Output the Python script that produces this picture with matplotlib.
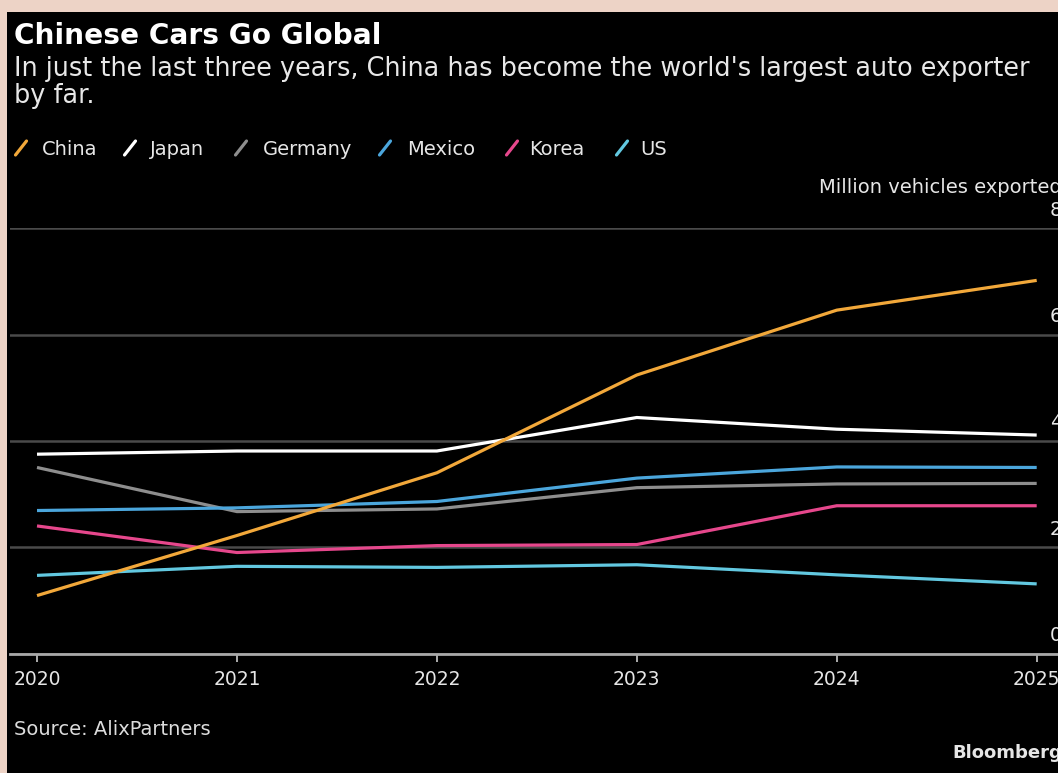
import matplotlib
matplotlib.use("Agg")
import matplotlib.pyplot as plt
from matplotlib.patches import Rectangle
from matplotlib.lines import Line2D
from matplotlib.transforms import blended_transform_factory

# Vehicle exports, millions per year
years = [2020, 2021, 2022, 2023, 2024, 2025]
countries = ["China", "Japan", "Germany", "Mexico", "Korea", "US"]
china = [1.09, 2.22, 3.40, 5.24, 6.46, 7.02]
japan = [3.75, 3.81, 3.81, 4.44, 4.22, 4.11]
germany = [3.50, 2.67, 2.72, 3.12, 3.19, 3.20]
mexico = [2.69, 2.74, 2.86, 3.30, 3.51, 3.50]
korea = [2.40, 1.90, 2.03, 2.05, 2.78, 2.78]
us = [1.47, 1.64, 1.62, 1.67, 1.48, 1.31]
y_ticks = [0, 2, 4, 6, 8]
x_labels = [str(y) for y in years]

series = dict(zip(countries, [china, japan, germany, mexico, korea, us]))
colors = dict(zip(countries, ["#f2a83a", "#ffffff", "#8e8e8e", "#4ba6dc", "#e6478c", "#62c8e0"]))
draw_order = ["US", "Korea", "Germany", "Mexico", "Japan", "China"]

W, H = 1058, 773
FONT = "DejaVu Sans"
fig = plt.figure(figsize=(W / 100, H / 100), dpi=100, facecolor="#edd3c6")


def fx(px):
    return px / W


def fy(py):
    return 1 - py / H


# black panel inside the frame
fig.patches.append(Rectangle((fx(7), 0), 1, fy(12), transform=fig.transFigure,
                             facecolor="black", edgecolor="none", zorder=-5))

# plot area: x from 10px to past the right edge, y from 0-line to 8-line
left_px, right_px = 10, 1080
top_px, bottom_px = 228.3, 653.5
ax = fig.add_axes([fx(left_px), fy(bottom_px), fx(right_px - left_px),
                   (bottom_px - top_px) / H])
ax.set_facecolor("none")
ax.set_zorder(1)

px_per_year = (1036.7 - 37.0) / 5
ax.set_xlim(2020 - (37.0 - left_px) / px_per_year,
            2025 + (right_px - 1036.7) / px_per_year)
ax.set_ylim(0, 8)

for name in draw_order:
    ax.plot(years, series[name], color=colors[name], lw=2.3,
            solid_joinstyle="round", solid_capstyle="butt", zorder=3)

# gridlines and baseline
ax.set_yticks(y_ticks)
ax.yaxis.grid(True, color="#4a4a4a", lw=1.8)
ax.set_axisbelow(True)
ax.tick_params(axis="y", length=0, labelleft=False, labelright=False)
for s in ["left", "right", "top"]:
    ax.spines[s].set_visible(False)
ax.spines["bottom"].set_color("#a8a8a8")
ax.spines["bottom"].set_linewidth(2.0)
ax.spines["bottom"].set_zorder(2)

ax.set_xticks(years)
ax.set_xticklabels(x_labels, fontsize=13.5, color="#e6e6e6", family=FONT)
ax.tick_params(axis="x", length=6, width=1.3, color="#bbbbbb", pad=6)

# value labels sitting above each gridline, right aligned
ytrans = blended_transform_factory(fig.transFigure, ax.transData)
for v in y_ticks:
    ax.annotate(str(v), xy=(fx(1062), v), xycoords=ytrans,
                xytext=(0, 9), textcoords="offset points",
                ha="right", va="baseline", fontsize=14, color="#e6e6e6",
                family=FONT, annotation_clip=False)

fig.text(fx(1062), fy(193), "Million vehicles exported", ha="right",
         va="baseline", fontsize=14, color="#e6e6e6", family=FONT)

# headline and subtitle
fig.text(fx(14), fy(44), "Chinese Cars Go Global", ha="left", va="baseline",
         fontsize=20.2, fontweight="bold", color="white", family=FONT)
fig.text(fx(14), fy(76),
         "In just the last three years, China has become the world's largest auto exporter",
         ha="left", va="baseline", fontsize=18.4, color="#e8e8e8", family=FONT)
fig.text(fx(14), fy(103), "by far.", ha="left", va="baseline",
         fontsize=18.4, color="#e8e8e8", family=FONT)

# legend: slash marks with names
legend_marks = [21, 130, 241, 385, 512, 622]
legend_text = [42, 150, 263, 407, 529, 640]
cy = 148
for name, mx, tx in zip(countries, legend_marks, legend_text):
    fig.add_artist(Line2D([fx(mx - 5.5), fx(mx + 5.5)], [fy(cy + 7), fy(cy - 7)],
                          transform=fig.transFigure, color=colors[name], lw=2.3,
                          solid_capstyle="round"))
    fig.text(fx(tx), fy(155), name, ha="left", va="baseline", fontsize=14,
             color="#e6e6e6", family=FONT)

fig.text(fx(14), fy(735), "Source: AlixPartners", ha="left", va="baseline",
         fontsize=14, color="#dcdcdc", family=FONT)
fig.text(fx(952), fy(758), "Bloomberg", ha="left", va="baseline",
         fontsize=13, fontweight="bold", color="#e6e6e6", family=FONT)

fig.savefig("out.png", dpi=100, facecolor=fig.get_facecolor())
